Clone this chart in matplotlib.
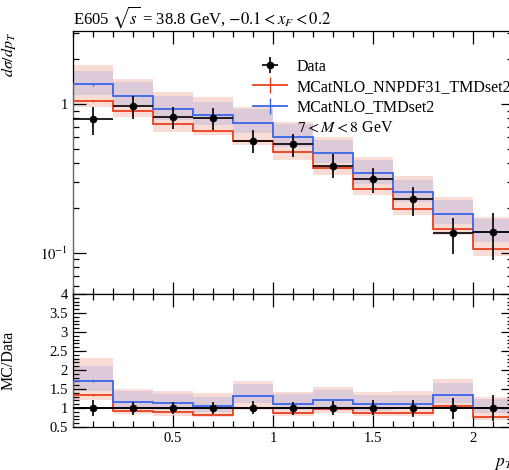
"""
E605 pT spectrum, 7 < M < 8 GeV: data vs two MCatNLO predictions, with ratio panel
"""
import numpy as np
import matplotlib
matplotlib.use('Agg')
import matplotlib.pyplot as plt
from matplotlib.lines import Line2D
from matplotlib.ticker import MultipleLocator, FixedLocator, FuncFormatter, LogLocator, NullFormatter

# bin edges in pT [GeV]
edges = [0.0, 0.2, 0.4, 0.6, 0.8, 1.0, 1.2, 1.4, 1.6, 1.8, 2.0, 2.2]

# data with its error bar ends
data = [0.789, 0.974, 0.822, 0.805, 0.564, 0.538, 0.385, 0.311, 0.229, 0.136, 0.137]
data_lo = [0.620, 0.796, 0.682, 0.669, 0.470, 0.440, 0.316, 0.251, 0.177, 0.098, 0.089]
data_hi = [0.950, 1.137, 0.959, 0.935, 0.669, 0.625, 0.459, 0.373, 0.278, 0.172, 0.184]

# MCatNLO_NNPDF31_TMDset2
red = [1.052, 0.897, 0.734, 0.658, 0.566, 0.473, 0.370, 0.268, 0.197, 0.144, 0.106]
red_lo = [0.959, 0.822, 0.651, 0.619, 0.530, 0.420, 0.333, 0.244, 0.179, 0.132, 0.095]
red_hi = [1.830, 1.466, 1.198, 1.120, 0.959, 0.760, 0.597, 0.442, 0.330, 0.238, 0.175]
red_stat = [0.02, 0.004, 0.003, 0.003, 0.002, 0.002, 0.002, 0.001, 0.001, 0.001, 0.001]

# MCatNLO_TMDset2
blue = [1.357, 1.132, 0.921, 0.843, 0.748, 0.597, 0.466, 0.342, 0.255, 0.183, 0.138]
blue_lo = [1.150, 0.960, 0.780, 0.720, 0.640, 0.510, 0.400, 0.290, 0.220, 0.155, 0.118]
blue_hi = [1.670, 1.400, 1.130, 1.040, 0.920, 0.730, 0.570, 0.420, 0.310, 0.225, 0.168]
blue_stat = [0.025, 0.004, 0.003, 0.003, 0.002, 0.002, 0.002, 0.001, 0.001, 0.001, 0.001]

RED = '#e8401c'
BLUE = '#3a66e8'

plt.rcParams['font.family'] = 'serif'
plt.rcParams['font.serif'] = ['Liberation Serif', 'DejaVu Serif']
plt.rcParams['mathtext.fontset'] = 'stix'
plt.rcParams['font.size'] = 10.5

edges = np.array(edges)
centers = 0.5 * (edges[:-1] + edges[1:])
halfw = 0.5 * np.diff(edges)
data = np.array(data)
data_lo = np.array(data_lo)
data_hi = np.array(data_hi)

fig = plt.figure(figsize=(5.1, 4.7), dpi=100)
ax = fig.add_axes([0.143, 0.3745, 0.863, 0.5595])
rax = fig.add_axes([0.143, 0.0915, 0.863, 0.283], sharex=ax)


def draw(a, scale):
    # bands first, then central lines
    a.stairs(np.array(red_hi) / scale, edges, baseline=np.array(red_lo) / scale,
             fill=True, color=RED, alpha=0.18, lw=0, zorder=1)
    a.stairs(np.array(blue_hi) / scale, edges, baseline=np.array(blue_lo) / scale,
             fill=True, color=BLUE, alpha=0.15, lw=0, zorder=1)
    a.stairs(np.array(red) / scale, edges, color=RED, lw=1.3, zorder=3)
    a.stairs(np.array(blue) / scale, edges, color=BLUE, lw=1.3, zorder=3)
    a.errorbar(centers, np.array(red) / scale, yerr=np.array(red_stat) / scale,
               fmt='none', ecolor=RED, elinewidth=1.0, zorder=3)
    a.errorbar(centers, np.array(blue) / scale, yerr=np.array(blue_stat) / scale,
               fmt='none', ecolor=BLUE, elinewidth=1.0, zorder=3)


# main panel
draw(ax, 1.0)
ax.errorbar(centers, data, xerr=halfw, yerr=[data - data_lo, data_hi - data],
            fmt='o', color='k', ms=4.5, elinewidth=1.2, capsize=0, zorder=5)
ax.set_yscale('log')
ax.set_ylim(0.0527, 3.1)
ax.set_xlim(0, 2.2)
ax.yaxis.set_major_locator(FixedLocator([0.1, 1.0]))
ax.yaxis.set_major_formatter(FuncFormatter(lambda v, p: '1' if abs(v - 1) < 1e-9 else r'$10^{-1}$'))
ax.yaxis.set_minor_locator(LogLocator(base=10, subs=np.arange(2, 10)))
ax.yaxis.set_minor_formatter(NullFormatter())
ax.set_ylabel(r'$d\sigma/dp_T$', loc='top', fontsize=11.5)
ax.yaxis.set_label_coords(-0.125, 1.0)
ax.set_title(r'E605 $\sqrt{s}$ = 38.8 GeV, $-0.1 < x_F < 0.2$', loc='left', fontsize=12, pad=5)
plt.setp(ax.get_xticklabels(), visible=False)

handles = [
    ax.errorbar([], [], xerr=[], yerr=[], fmt='o', color='k', ms=4.5, elinewidth=1.2),
    Line2D([], [], color=RED, lw=1.3, marker='|', ms=11, mew=1.0),
    Line2D([], [], color=BLUE, lw=1.3, marker='|', ms=11, mew=1.0),
    Line2D([], [], lw=0, alpha=0),
]
labels = ['Data', 'MCatNLO_NNPDF31_TMDset2', 'MCatNLO_TMDset2', r'$7 < M < 8$ GeV']
ax.legend(handles, labels, loc='upper left', bbox_to_anchor=(0.392, 0.925), frameon=False,
          borderpad=0, handlelength=2.1, handletextpad=0.6, labelspacing=0.27, fontsize=11.5)

# ratio panel
draw(rax, data)
rax.axhline(1.0, color='k', lw=1.2, zorder=4)
rax.errorbar(centers, np.ones_like(data), xerr=halfw,
             yerr=[(data - data_lo) / data, (data_hi - data) / data],
             fmt='o', color='k', ms=4.5, elinewidth=1.2, capsize=0, zorder=5)
rax.set_ylim(0.5, 4.0)
rax.yaxis.set_major_locator(MultipleLocator(0.5))
rax.yaxis.set_minor_locator(MultipleLocator(0.1))
rax.yaxis.set_major_formatter(FuncFormatter(lambda v, p: '%g' % v))
rax.set_ylabel('MC/Data', fontsize=11.5)
rax.yaxis.set_label_coords(-0.127, 0.5)
rax.set_xlabel(r'$p_T$ [GeV]', ha='left', fontsize=12.5)
rax.xaxis.set_label_coords(0.957, -0.19)
rax.xaxis.set_major_locator(FixedLocator([0.5, 1.0, 1.5, 2.0]))
rax.xaxis.set_major_formatter(FuncFormatter(lambda v, p: '%g' % v))
rax.xaxis.set_minor_locator(MultipleLocator(0.1))

for a in (ax, rax):
    a.tick_params(which='both', direction='in', top=True, right=True, width=0.9, labelsize=10.5)
    a.tick_params(which='major', length=9)
    a.tick_params(which='minor', length=4.5)
    for s in a.spines.values():
        s.set_linewidth(0.9)

fig.savefig('out.png', dpi=100)
